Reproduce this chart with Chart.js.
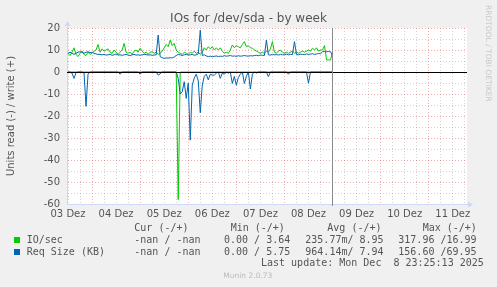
<!DOCTYPE html>
<html><head><meta charset="utf-8">
<script src="https://cdn.jsdelivr.net/npm/chart.js@4.4.1/dist/chart.umd.min.js"></script>
<style>html,body{margin:0;padding:0;background:#F0F0F0;}canvas{display:block;}</style>
</head><body>
<canvas id="c" width="497" height="287" style="width:497px;height:287px"></canvas>
<script>
// ---- data (hourly samples, hour 0 = first day label) ----
const dayLabels = ['03 Dez','04 Dez','05 Dez','06 Dez','07 Dez','08 Dez','09 Dez','10 Dez','11 Dez'];
const dayHours = [0,24,48,72,96,120,144,168,192];
const gridHours = [0,6,12,18,24,30,36,42,48,54,60,66,72,78,84,90,96,102,108,114,120,126,132,138,144,150,156,162,168,174,180,186,192,198];
const yTickValues = [-60,-55,-50,-45,-40,-35,-30,-25,-20,-15,-10,-5,0,5,10,15,20];
const nowHour = 132;

const ioWrite = [
 8.5,7.5,9,11,8,7,8.5,9.5,8,7.5,
 9,8,8.5,9.5,10,12.5,9,10.5,9.5,10,
 10.5,9,8.5,10,9,8,9,10,13,9,
 8.5,9,8,9.5,10,9,10.8,9.5,8.5,9,
 8,9,9.2,8.5,9,8,8.5,9.5,11,12.5,
 11.5,14.5,12,13,10,9,8.5,8,9,8.5,
 8,9,8.5,9.5,8.5,9,8,9,11,10,
 11.5,10.5,11.5,10,11,10,11,9.5,8.5,9,
 8.5,10,12.3,11,12,11.5,11,12.5,13.8,11.5,
 12,11,10.8,10,9.5,9,8.5,9,8.5,9.5,
 9,10.5,13.8,9,8.5,9.5,10,9,8.5,9,
 8.5,9,9.5,8.5,9,8.5,9,9.5,9,9.5,
 10,9.5,10.8,10,11,9.5,10,10,12,5.5,
 5.5,5.5,9];
const ioRead = [
 0,0,0,0,0,0,0,0,0,0,
 0,0,0,0,0,0,0,0,0,0,
 0,0,0,0,0,0,0,0,0,0,
 0,0,0,0,0,0,0,0,0,0,
 0,0,0,0,0,0,0,0,0,0,
 0,0,0,0,0,-58,0,0,0,0,
 0,0,0,0,0,0,0,0,0,0,
 0,0,0,0,0,0,0,0,0,0,
 0,0,0,0,0,0,0,0,0,0,
 0,0,0,0,0,0,0,0,0,0,
 0,0,0,0,0,0,0,0,0,0,
 0,0,0,0,0,0,0,0,0,0,
 0,0,0,0,0,0,0,0,0,0,
 0,0,0];
const reqWrite = [
 8.5,9,8.5,8,8.5,9,9.2,9,8.5,9,
 9.2,8.8,9,8.5,8.2,8,8,7.8,8,7.7,
 7.8,8,7.6,7.8,8.2,7.7,7.8,7.6,7.8,8,
 7.7,7.5,7.8,8,7.7,7.8,7.6,7.8,8,7.9,
 7.7,7.8,7.6,7.7,7.8,16.8,7,6.5,6.2,6.4,
 6.3,6.5,6.4,6.8,7.5,8,7.8,7.5,7.8,8,
 7.7,7.8,8,7.6,7.8,8.2,19,7.5,7.8,7.3,
 7,7.2,7,7.1,7.3,7,7.2,7.1,7.4,7.2,
 7.3,7.5,7.2,7.3,7.1,7.4,7.2,7.3,7.5,7.3,
 7.2,7.4,7.3,7.5,7.6,7.4,7.7,7.6,7.5,14.5,
 7.8,7.7,8,7.8,7.9,7.7,8,7.8,7.9,8.1,
 7.8,8,7.9,13.8,8,7.8,8.1,8,7.9,8.2,
 8,8.1,8.3,8,8.2,8.4,8.3,9.2,9.3,9.2,
 9.3,9.2,7.5];
const reqRead = [
 0,0,-0.5,-2.9,-0.3,0,0,0,-0.5,-15.6,
 -1,0,0,0,0,0,0,0,0,0,
 0,0,0,0,0,0,-1,0,0,0,
 0,0,0,0,0,0,-1,0,0,0,
 0,0,0,0,0,-1.4,-0.8,0,0,0,
 0,0,0,0,0,-3,-10,-9,-4.4,-12,
 -5,-31,-6,-2.7,-1,-4,-18.5,-6,-2,-1,
 -3.6,-1,-1.4,-1.4,-0.5,0,-2.9,-0.5,-1,0,
 -0.5,0,-5.2,-2,-6,-2.5,-1,0,-5.2,-2,
 0,-7.7,-1,0,-0.5,0,0,0,0,0,
 -2.1,0,0,0,0,0,0,0,0,0,
 -1,0,0,0,0,0,0,0,0,0,
 -5.1,0,0,0,0,0,0,0,0,0,
 0,0,0];

const seriesNames = ['IO/sec','Req Size (KB)'];
const seriesColors = ['#00CC00','#0066B3'];
const curVals = ['-nan / -nan','-nan / -nan'];
const minVals = ['0.00 / 3.64','0.00 / 5.75'];
const avgVals = ['235.77m/ 8.95','964.14m/ 7.94'];
const maxVals = ['317.96 /16.99','156.60 /69.95'];
const lastUpdate = 'Last update: Mon Dec  8 23:25:13 2025';

// ---- helpers ----
const pts = arr => arr.map((v,i)=>({x:i,y:v}));
const GRID = 'rgba(143,143,143,0.38)';
const MGRID = 'rgba(222,79,79,0.45)';
const AXIS = '#CFD6F8';
const FONT_COL = '#555555';
const SANS = "'DejaVu Sans', sans-serif";
const MONO = "'DejaVu Sans Mono', monospace";

const decor = {
  id:'decor',
  beforeDraw(chart){
    const {ctx, chartArea:a} = chart;
    ctx.save();
    ctx.fillStyle = '#F0F0F0';
    ctx.fillRect(0,0,chart.width,chart.height);
    ctx.fillStyle = '#FFFFFF';
    ctx.fillRect(a.left,a.top,a.right-a.left,a.bottom-a.top);
    ctx.restore();
  },
  afterDatasetsDraw(chart){
    const {ctx, chartArea:a, scales:{x,y}} = chart;
    ctx.save();
    const y0 = Math.round(y.getPixelForValue(0) - 0.5) + 0.5;
    ctx.strokeStyle = '#000000'; ctx.lineWidth = 1;
    ctx.beginPath(); ctx.moveTo(a.left, y0); ctx.lineTo(a.right, y0); ctx.stroke();
    const xn = Math.round(x.getPixelForValue(nowHour) - 0.5) + 0.5;
    ctx.strokeStyle = '#8A8A8A';
    ctx.beginPath(); ctx.moveTo(xn, a.top); ctx.lineTo(xn, a.bottom+2); ctx.stroke();
    ctx.restore();
  },
  afterDraw(chart){
    const {ctx, chartArea:a} = chart;
    ctx.save();
    ctx.strokeStyle = AXIS; ctx.fillStyle = AXIS; ctx.lineWidth = 1;
    const lx = Math.round(a.left)+0.5, by = Math.round(a.bottom)+0.5;
    ctx.beginPath(); ctx.moveTo(lx, a.top); ctx.lineTo(lx, a.top-4); ctx.stroke();
    ctx.beginPath(); ctx.moveTo(lx-3, a.top-2); ctx.lineTo(lx+3, a.top-2); ctx.lineTo(lx, a.top-7); ctx.closePath(); ctx.fill();
    ctx.beginPath(); ctx.moveTo(a.right, by); ctx.lineTo(a.right+3, by); ctx.stroke();
    ctx.beginPath(); ctx.moveTo(a.right+1, by-3); ctx.lineTo(a.right+1, by+3); ctx.lineTo(a.right+6, by); ctx.closePath(); ctx.fill();
    ctx.fillStyle = FONT_COL;
    ctx.font = '12px ' + SANS;
    ctx.textAlign = 'center'; ctx.textBaseline = 'alphabetic';
    ctx.fillText('IOs for /dev/sda - by week', 248.5, 22);
    ctx.save();
    ctx.translate(484.5, 5);
    ctx.rotate(Math.PI/2);
    ctx.fillStyle = '#C8C8C8';
    ctx.font = '7.5px ' + SANS;
    ctx.textAlign = 'left'; ctx.textBaseline = 'middle';
    ctx.fillText('RRDTOOL / TOBI OETIKER', 0, -3.5);
    ctx.restore();
    ctx.font = '10px ' + MONO;
    ctx.fillStyle = FONT_COL;
    ctx.textAlign = 'left'; ctx.textBaseline = 'middle';
    ctx.fillText('Cur (-/+)', 134.3, 228);
    ctx.fillText('Min (-/+)', 230.7, 228);
    ctx.fillText('Avg (-/+)', 327.3, 228);
    ctx.fillText('Max (-/+)', 422.7, 228);
    const rowsY = [240, 252];
    for (let i=0;i<2;i++){
      const ry = rowsY[i];
      ctx.fillStyle = seriesColors[i];
      ctx.fillRect(14, ry-3, 6, 6);
      ctx.fillStyle = FONT_COL;
      ctx.fillText(seriesNames[i], 26.7, ry);
      ctx.fillText(curVals[i], 134.3, ry);
      ctx.fillText(minVals[i], 224, ry);
      ctx.fillText(avgVals[i], 305.3, ry);
      ctx.fillText(maxVals[i], 398.3, ry);
    }
    ctx.fillText(lastUpdate, 261, 263.5);
    ctx.fillStyle = '#BBBBBB';
    ctx.font = '7.5px ' + SANS;
    ctx.textAlign = 'center';
    ctx.fillText('Munin 2.0.73', 247.8, 276);
    ctx.restore();
  }
};

const lineDs = (label, data, color, order) => ({
  label, data: pts(data), borderColor: color, backgroundColor: color,
  borderWidth: 1, pointRadius: 0, tension: 0, fill: false, order
});

new Chart(document.getElementById('c'), {
  type: 'line',
  data: {
    datasets: [
      lineDs('IO/sec read', ioRead, seriesColors[0], 3),
      lineDs('IO/sec write', ioWrite, seriesColors[0], 2),
      lineDs('Req Size read', reqRead, seriesColors[1], 1),
      lineDs('Req Size write', reqWrite, seriesColors[1], 0)
    ]
  },
  plugins: [decor],
  options: {
    responsive: false, animation: false, devicePixelRatio: 1,
    layout: { padding: { top: 28, right: 30, bottom: 0, left: 0 } },
    plugins: { legend: { display: false }, tooltip: { enabled: false }, title: { display: false } },
    scales: {
      x: {
        type: 'linear', min: -0.5, max: 199.1,
        afterBuildTicks: s => { s.ticks = gridHours.map(v => ({ value: v })); },
        afterFit: s => { s.height = 83; },
        ticks: {
          autoSkip: false, maxRotation: 0, minRotation: 0, padding: 4,
          color: FONT_COL, font: { family: SANS, size: 10 },
          callback: v => { const k = dayHours.indexOf(v); return k >= 0 ? dayLabels[k] : ''; }
        },
        grid: { drawTicks: false, lineWidth: 1, color: c => (c.tick && c.tick.value % 24 === 12) ? MGRID : GRID },
        border: { display: true, color: AXIS, dash: [1, 2] }
      },
      y: {
        type: 'linear', min: -60, max: 20,
        afterBuildTicks: s => { s.ticks = yTickValues.map(v => ({ value: v })); },
        afterFit: s => { s.width = 67; },
        ticks: {
          autoSkip: false, padding: 7, color: FONT_COL, font: { family: SANS, size: 10 },
          callback: v => (v % 10 === 0 ? String(v) : '')
        },
        grid: { drawTicks: false, lineWidth: 1, color: c => (c.tick && c.tick.value % 10 === 0) ? MGRID : GRID },
        border: { display: true, color: AXIS, dash: [1, 2] },
        title: { display: true, text: 'Units read (-) / write (+)', color: FONT_COL, font: { family: SANS, size: 10 }, padding: { top: 5, bottom: 0 } }
      }
    }
  }
});
</script>
</body></html>
